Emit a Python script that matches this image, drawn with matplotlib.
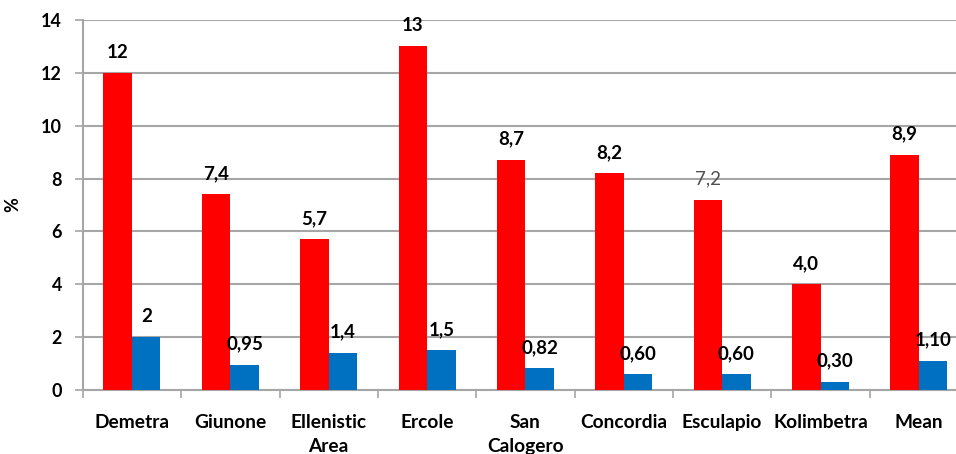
import matplotlib
matplotlib.use("Agg")
import matplotlib.pyplot as plt
import numpy as np

categories = ["Demetra", "Giunone", "Ellenistic\nArea", "Ercole", "San\nCalogero",
              "Concordia", "Esculapio", "Kolimbetra", "Mean"]
red_values = [12, 7.4, 5.7, 13, 8.7, 8.2, 7.2, 4.0, 8.9]
red_labels = ["12", "7,4", "5,7", "13", "8,7", "8,2", "7,2", "4,0", "8,9"]
blue_values = [2, 0.95, 1.4, 1.5, 0.82, 0.60, 0.60, 0.30, 1.10]
blue_labels = ["2", "0,95", "1,4", "1,5", "0,82", "0,60", "0,60", "0,30", "1,10"]
y_ticks = [0, 2, 4, 6, 8, 10, 12, 14]

plt.rcParams["font.family"] = ["Lato", "DejaVu Sans"]

fig = plt.figure(figsize=(9.56, 4.54), dpi=100)
ax = fig.add_axes([0.0866, 0.141, 0.926, 0.815])

x = np.arange(len(categories))
w = 0.29
ax.bar(x - w / 2, red_values, width=w, color="#FF0000", zorder=3)
ax.bar(x + w / 2, blue_values, width=w, color="#0070C0", zorder=3)

for xi, v, lab in zip(x, red_values, red_labels):
    plain = lab == "7,2"
    ax.annotate(lab, (xi - w / 2, v), xytext=(0, 15), textcoords="offset points",
                ha="center", va="center", fontsize=13.5,
                fontweight="normal" if plain else "bold",
                color="#505050" if plain else "black")
for xi, v, lab in zip(x, blue_values, blue_labels):
    ax.annotate(lab, (xi + w / 2, v), xytext=(0, 15), textcoords="offset points",
                ha="center", va="center", fontsize=13.5, fontweight="bold")

ax.set_xlim(-0.5, len(categories) - 0.5)
ax.set_ylim(0, 14)
ax.set_yticks(y_ticks)
ax.set_yticklabels([str(t) for t in y_ticks], fontsize=13, fontweight="bold")
ax.yaxis.grid(True, color="#A6A6A6", linewidth=1.5, zorder=0)
ax.set_axisbelow(True)

ax.set_xticks(x)
ax.set_xticklabels(categories, fontsize=13.8, fontweight="bold", linespacing=1.5)
ax.set_xticks(np.arange(len(categories) + 1) - 0.5, minor=True)
ax.tick_params(axis="x", which="major", length=0, pad=17)
ax.tick_params(axis="x", which="minor", length=6, width=1.2, color="#A6A6A6", direction="out")
ax.tick_params(axis="y", length=6, width=1.2, color="#A6A6A6", pad=9)

for side in ["top", "right"]:
    ax.spines[side].set_visible(False)
for side in ["left", "bottom"]:
    ax.spines[side].set_color("#A6A6A6")
    ax.spines[side].set_linewidth(1.5)

ax.set_ylabel("%", fontsize=13, fontweight="bold", labelpad=14)

fig.savefig("out.png", dpi=100)
